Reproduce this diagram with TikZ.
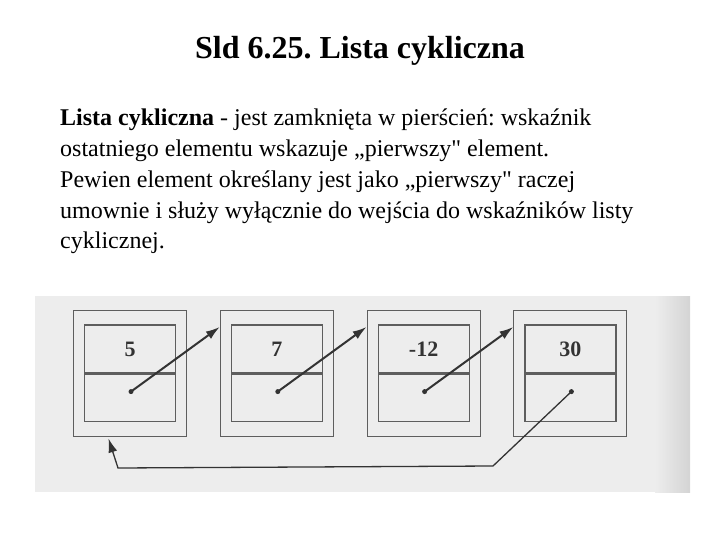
\documentclass[tikz,border=0pt]{standalone}
\usepackage{fontspec}
\setmainfont{Liberation Serif}
\usetikzlibrary{arrows.meta}
\definecolor{scanbg}{HTML}{EDEDED}
\definecolor{scanedge}{HTML}{D4D4D4}
\definecolor{ink}{HTML}{5E5E5E}
\definecolor{pen}{HTML}{333333}
\frenchspacing
\tikzset{
  outerbox/.style={draw=ink, line width=1.1pt, minimum width=113pt, minimum height=126pt, inner sep=0pt},
  datafield/.style={draw=ink, line width=1.2pt, minimum width=91pt, minimum height=48pt, inner sep=0pt,
    text height=15pt, text depth=0pt, font=\bfseries\fontsize{22}{26}\selectfont, text=pen},
  linkfield/.style={draw=ink, line width=1.2pt, minimum width=91pt, minimum height=47pt, inner sep=0pt},
  linkdot/.style={circle, fill=pen, inner sep=0pt, minimum size=5pt},
  nextptr/.style={pen, line width=2pt, -{Latex[length=14pt,width=9pt]}},
  bodytext/.style={anchor=north west, align=left, inner sep=0pt, font=\fontsize{24}{30.5}\selectfont},
}

\begin{document}
\begin{tikzpicture}[x=1pt, y=-1pt]
\useasboundingbox (0,0) rectangle (720,540);
% title and text
\node[anchor=base, font=\bfseries\fontsize{32}{38}\selectfont] (title) at (360,59) {Sld 6.25. Lista cykliczna};
\node[bodytext] (para1) at (60,109) {\textbf{Lista cykliczna} - jest zamknięta w pierścień: wskaźnik\\ostatniego elementu wskazuje „pierwszy\textquotedbl{} element.};
\node[bodytext] (para2) at (60,171) {Pewien element określany jest jako „pierwszy\textquotedbl{} raczej\\umownie i służy wyłącznie do wejścia do wskaźników listy\\cyklicznej.};

% scanned background
\fill[scanbg] (35,296) rectangle (690,492);
\shade[left color=scanbg, right color=scanedge] (655,296) rectangle (690,492);

% list elements
\foreach \val [count=\i] in {5,7,-12,30} {
  \node[outerbox] (out\i) at (130+146.8*\i-146.8, 373.5) {};
  \node[datafield, anchor=south] (val\i) at (out\i.center) {\val};
  \node[linkfield, anchor=north] (ptr\i) at (out\i.center) {};
  \node[linkdot] (dot\i) at ([xshift=1pt,yshift=6pt]ptr\i.center) {};
}

% pointers
\foreach \i/\j in {1/2,2/3,3/4}
  \draw[nextptr] (dot\i.center) -- ([yshift=-17pt]out\j.north west);

% back to first
\coordinate (bend) at (493,466);
\coordinate (turn) at (118,468);
\coordinate (first) at (108.5,438.5);
\draw[pen, line width=1.3pt, -{Latex[length=14pt,width=9pt]}] (dot4.center) -- (bend) -- (turn) -- (first);
\end{tikzpicture}
\end{document}
